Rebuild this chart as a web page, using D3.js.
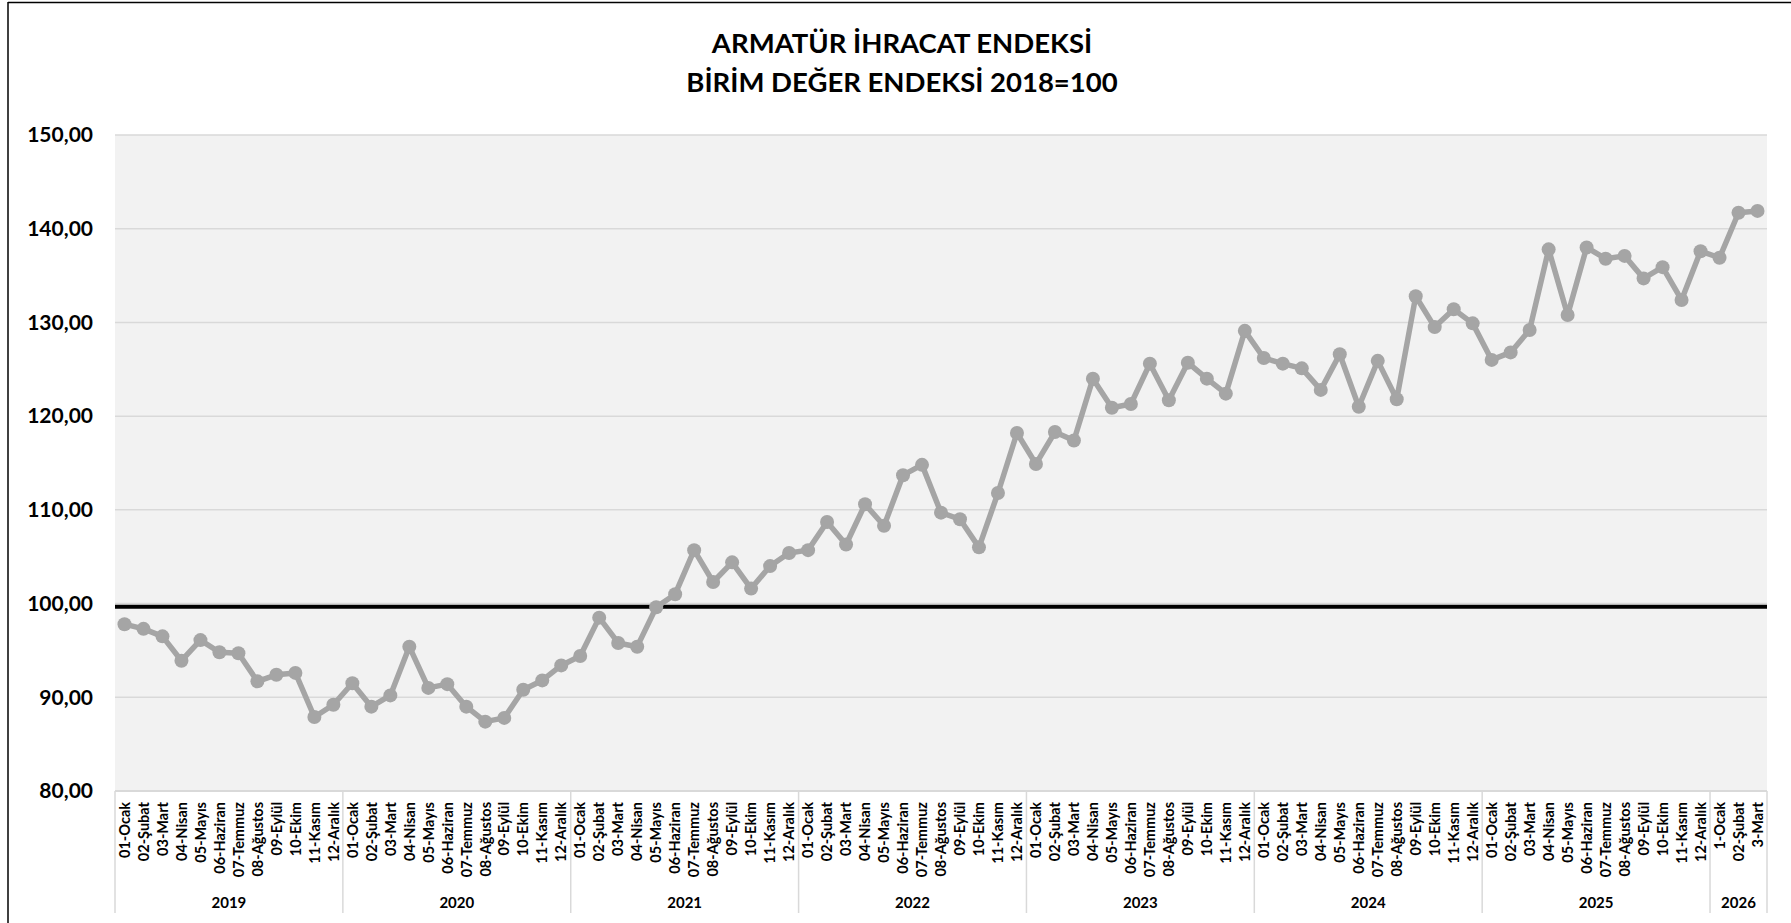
<!DOCTYPE html>
<html>
<head>
<meta charset="utf-8">
<script src="https://cdn.jsdelivr.net/npm/d3@7"></script>
<style>
html, body { margin: 0; padding: 0; background: #fff; }
svg { display: block; font-family: Lato, "Open Sans", "Noto Sans", sans-serif; }
</style>
</head>
<body>
<svg id="chart" width="1791" height="923"></svg>
<script>
// ---------- data ----------
const titleLines = ["ARMATÜR İHRACAT ENDEKSİ", "BİRİM DEĞER ENDEKSİ 2018=100"];
const years = ["2019", "2020", "2021", "2022", "2023", "2024", "2025", "2026"];
const monthLabels = ["01-Ocak", "02-Şubat", "03-Mart", "04-Nisan", "05-Mayıs", "06-Haziran",
                     "07-Temmuz", "08-Ağustos", "09-Eylül", "10-Ekim", "11-Kasım", "12-Aralık"];
const monthLabels2026 = ["1-Ocak", "02-Şubat", "3-Mart"];

const values2019 = [97.8, 97.3, 96.5, 93.9, 96.1, 94.8, 94.7, 91.7, 92.4, 92.6, 87.9, 89.2];
const values2020 = [91.5, 89.0, 90.2, 95.4, 91.0, 91.4, 89.0, 87.4, 87.8, 90.8, 91.8, 93.4];
const values2021 = [94.4, 98.5, 95.8, 95.4, 99.6, 101.0, 105.7, 102.3, 104.4, 101.6, 104.0, 105.4];
const values2022 = [105.7, 108.7, 106.3, 110.6, 108.3, 113.7, 114.8, 109.7, 109.0, 106.0, 111.8, 118.2];
const values2023 = [114.9, 118.3, 117.4, 124.0, 120.9, 121.3, 125.6, 121.7, 125.7, 124.0, 122.4, 129.1];
const values2024 = [126.2, 125.6, 125.1, 122.8, 126.6, 121.0, 125.9, 121.8, 132.8, 129.5, 131.4, 129.9];
const values2025 = [126.0, 126.8, 129.2, 137.8, 130.8, 138.0, 136.8, 137.1, 134.7, 135.9, 132.4, 137.6];
const values2026 = [136.9, 141.7, 141.9];

const yTicks = [80, 90, 100, 110, 120, 130, 140, 150];
const referenceLevel = 99.66;

// ---------- build table ----------
const valuesByYear = [values2019, values2020, values2021, values2022, values2023, values2024, values2025, values2026];
const labelsByYear = years.map(y => y === "2026" ? monthLabels2026 : monthLabels);
const points = [];
valuesByYear.forEach((vals, yi) => {
  vals.forEach((v, mi) => {
    points.push({ key: years[yi] + "|" + mi, year: years[yi], label: labelsByYear[yi][mi], value: v });
  });
});

// ---------- layout ----------
const W = 1791, H = 923;
const plot = { left: 115, right: 1767, top: 135, bottom: 791 };

const svg = d3.select("#chart");

// outer frame (only left and top edges fall inside the picture)
svg.append("line").attr("x1", 8).attr("x2", 8).attr("y1", 2).attr("y2", H)
  .attr("stroke", "#000").attr("stroke-width", 1.5);
svg.append("line").attr("x1", 8).attr("x2", W).attr("y1", 2.5).attr("y2", 2.5)
  .attr("stroke", "#000").attr("stroke-width", 1.5);

const x = d3.scaleBand().domain(points.map(d => d.key)).range([plot.left, plot.right]).padding(0);
const y = d3.scaleLinear().domain([80, 150]).range([plot.bottom, plot.top]);

// plot background
svg.append("rect")
  .attr("x", plot.left).attr("y", plot.top)
  .attr("width", plot.right - plot.left).attr("height", plot.bottom - plot.top)
  .attr("fill", "#f2f2f2");

// gridlines
svg.append("g").selectAll("line").data(yTicks).join("line")
  .attr("x1", plot.left).attr("x2", plot.right)
  .attr("y1", d => y(d)).attr("y2", d => y(d))
  .attr("stroke", "#d9d9d9").attr("stroke-width", 1.5);

// y axis labels
const locale = d3.formatLocale({ decimal: ",", thousands: ".", grouping: [3], currency: ["", ""] });
const fmt = locale.format(".2f");
const yAxis = svg.append("g")
  .attr("transform", `translate(${plot.left},0)`)
  .call(d3.axisLeft(y).tickValues(yTicks).tickFormat(fmt).tickSize(0).tickPadding(22));
yAxis.select(".domain").remove();
yAxis.selectAll("text")
  .attr("font-family", "Lato, 'Open Sans', sans-serif")
  .attr("font-size", 21).attr("font-weight", 700).attr("fill", "#000");

// reference line
svg.append("line")
  .attr("x1", plot.left).attr("x2", plot.right)
  .attr("y1", y(referenceLevel)).attr("y2", y(referenceLevel))
  .attr("stroke", "#000").attr("stroke-width", 4);

// series line
const line = d3.line().x(d => x(d.key) + x.bandwidth() / 2).y(d => y(d.value));
svg.append("path").datum(points)
  .attr("d", line)
  .attr("fill", "none").attr("stroke", "#a5a5a5").attr("stroke-width", 5.5)
  .attr("stroke-linejoin", "round");
svg.append("g").selectAll("circle").data(points).join("circle")
  .attr("cx", d => x(d.key) + x.bandwidth() / 2)
  .attr("cy", d => y(d.value))
  .attr("r", 7)
  .attr("fill", "#a5a5a5");

// x axis: month labels
const xAxis = svg.append("g")
  .attr("transform", `translate(0,${plot.bottom})`)
  .call(d3.axisBottom(x).tickFormat(k => points.find(p => p.key === k).label).tickSize(0));
xAxis.select(".domain").remove();
xAxis.selectAll("text")
  .attr("font-family", "Lato, 'Open Sans', sans-serif")
  .attr("font-size", 14.5).attr("font-weight", 700).attr("fill", "#000")
  .attr("text-anchor", "end")
  .attr("transform", "rotate(-90)")
  .attr("x", -11).attr("y", 0).attr("dy", "0.36em");

// year separators and labels
const yearStarts = [];
let idx = 0;
valuesByYear.forEach((vals, yi) => { yearStarts.push({ year: years[yi], start: idx, end: idx + vals.length }); idx += vals.length; });
const keyAt = i => points[i].key;
const xStart = i => x(keyAt(i));
const xEnd = i => x(keyAt(i - 1)) + x.bandwidth();

const sepX = yearStarts.map(d => xStart(d.start)).concat([plot.right]);
svg.append("g").selectAll("line").data(sepX).join("line")
  .attr("x1", d => d).attr("x2", d => d)
  .attr("y1", plot.bottom).attr("y2", 913)
  .attr("stroke", "#d9d9d9").attr("stroke-width", 1.5);

// bottom axis line
svg.append("line")
  .attr("x1", plot.left).attr("x2", plot.right)
  .attr("y1", plot.bottom).attr("y2", plot.bottom)
  .attr("stroke", "#d9d9d9").attr("stroke-width", 2);

svg.append("g").selectAll("text").data(yearStarts).join("text")
  .attr("x", d => (xStart(d.start) + xEnd(d.end)) / 2)
  .attr("y", 908)
  .attr("text-anchor", "middle")
  .attr("font-size", 15).attr("font-weight", 700).attr("fill", "#000")
  .text(d => d.year);

// title
svg.append("g").selectAll("text").data(titleLines).join("text")
  .attr("x", 902).attr("y", (d, i) => 53 + i * 39)
  .attr("text-anchor", "middle")
  .attr("font-size", 27.5).attr("font-weight", 700).attr("fill", "#000")
  .text(d => d);
</script>
</body>
</html>
